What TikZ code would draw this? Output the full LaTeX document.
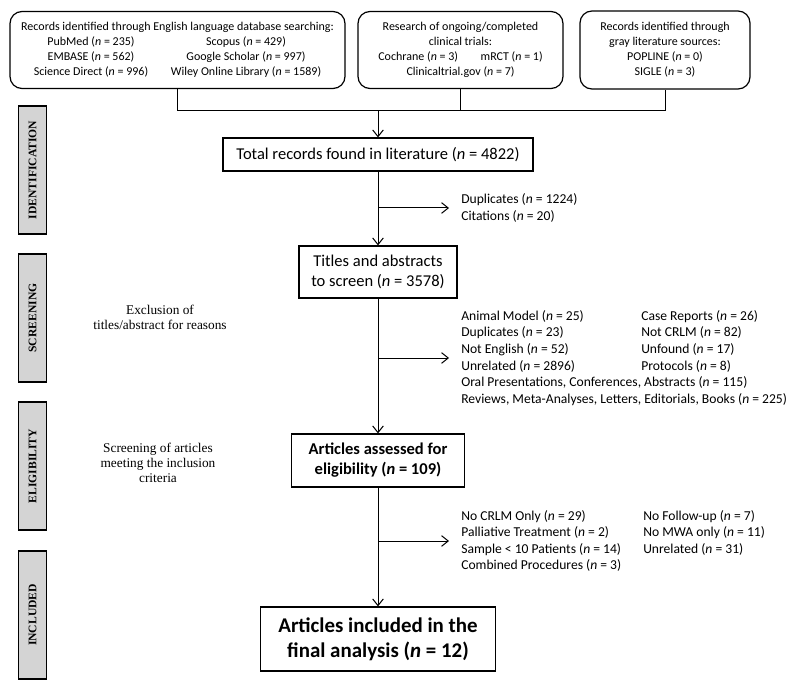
\documentclass[tikz,border=0pt]{standalone}
\usepackage{fontspec}
\setmainfont{Carlito}
\newfontfamily\tms{Liberation Serif}
\usetikzlibrary{arrows.meta}
\newcommand{\nn}{\textit{n}}
\begin{document}
\begin{tikzpicture}[x=0.75pt,y=-0.75pt,
  box/.style={draw,line width=0.9pt,inner sep=0pt,align=center},
  srcbox/.style={box,rounded corners=9pt,font=\fontsize{9}{11.25}\selectfont},
  mainbox/.style={box,font=\fontsize{12.4}{15}\selectfont},
  exclist/.style={inner ysep=0pt,inner xsep=9pt,anchor=west,align=left,font=\fontsize{10.2}{12.45}\selectfont},
  side/.style={draw,line width=1.1pt,fill=black!17,rotate=90,minimum width=96pt,minimum height=21pt,inner sep=0pt,font=\tms\bfseries\fontsize{8.7}{10}\selectfont},
  note/.style={align=center,font=\tms\fontsize{10}{11.25}\selectfont},
  ln/.style={line width=0.75pt},
  arr/.style={ln,-{Straight Barb[length=5pt,width=8pt]}}]
\useasboundingbox (0,0) rectangle (794,692);
% source boxes
\node[srcbox,minimum width=251.25pt,minimum height=57.75pt] (b1) at (177.5,50)
 {Records identified through English language database searching:\\
  \makebox[102.75pt]{PubMed (\nn{} = 235)}\makebox[129.75pt]{Scopus (\nn{} = 429)}\\
  \makebox[102.75pt]{EMBASE (\nn{} = 562)}\makebox[129.75pt]{Google Scholar (\nn{} = 997)}\\
  \makebox[102.75pt]{Science Direct (\nn{} = 996)}\makebox[129.75pt]{Wiley Online Library (\nn{} = 1589)}};
\node[srcbox,minimum width=153.75pt,minimum height=57.75pt] (b2) at (460.5,50)
 {Research of ongoing/completed\\clinical trials:\\
  Cochrane (\nn{} = 3)\hspace{17pt}mRCT (\nn{} = 1)\\Clinicaltrial.gov (\nn{} = 7)};
\node[srcbox,minimum width=127.5pt,minimum height=58.5pt] (b3) at (665,50)
 {Records identified through\\gray literature sources:\\POPLINE (\nn{} = 0)\\SIGLE (\nn{} = 3)};
% main flow
\node[mainbox,minimum width=232.5pt,minimum height=24.75pt] (total) at (378,154.5)
 {Total records found in literature (\nn{} = 4822)};
\node[mainbox,minimum width=118.5pt,minimum height=39pt] (titles) at (378,272)
 {Titles and abstracts\\to screen (\nn{} = 3578)};
\node[mainbox,font=\bfseries\fontsize{12.4}{15}\selectfont,minimum width=129.75pt,minimum height=39.75pt] (elig) at (378,460.5)
 {Articles assessed for\\eligibility (\nn{} = 109)};
\node[mainbox,font=\bfseries\fontsize{15.7}{19}\selectfont,minimum width=176.25pt,minimum height=48pt] (incl) at (378,639)
 {Articles included in the\\final analysis (\nn{} = 12)};
% exclusion lists
\node[exclist] (dup) at (449,208)
 {Duplicates (\nn{} = 1224)\\Citations (\nn{} = 20)};
\node[exclist] (exc1) at (449,358)
 {\makebox[135pt][l]{Animal Model (\nn{} = 25)}Case Reports (\nn{} = 26)\\
  \makebox[135pt][l]{Duplicates (\nn{} = 23)}Not CRLM (\nn{} = 82)\\
  \makebox[135pt][l]{Not English (\nn{} = 52)}Unfound (\nn{} = 17)\\
  \makebox[135pt][l]{Unrelated (\nn{} = 2896)}Protocols (\nn{} = 8)\\
  Oral Presentations, Conferences, Abstracts (\nn{} = 115)\\
  Reviews, Meta-Analyses, Letters, Editorials, Books (\nn{} = 225)};
\node[exclist] (exc2) at (449,541)
 {\makebox[136.5pt][l]{No CRLM Only (\nn{} = 29)}No Follow-up (\nn{} = 7)\\
  \makebox[136.5pt][l]{Palliative Treatment (\nn{} = 2)}No MWA only (\nn{} = 11)\\
  \makebox[136.5pt][l]{Sample < 10 Patients (\nn{} = 14)}Unrelated (\nn{} = 31)\\
  Combined Procedures (\nn{} = 3)};
% side labels
\node[side] (sid) at (32.5,170) {IDENTIFICATION};
\node[side] (sscr) at (32.5,318) {SCREENING};
\node[side] (sel) at (32.5,466) {ELIGIBILITY};
\node[side] (sinc) at (32.5,615) {INCLUDED};
% notes
\node[note] (n1) at (160,317.5) {Exclusion of\\titles/abstract for reasons};
\node[note] (n2) at (158,463) {Screening of articles\\meeting the inclusion\\criteria};
% connectors
\coordinate (j) at (378,111);
\coordinate (k1) at (378,208);
\coordinate (k2) at (378,358);
\coordinate (k3) at (378,541);
\draw[ln] (b1.south) -- (b1.south |- j) -- (b3.south |- j) -- (b3.south);
\draw[ln] (b2.south) -- (b2.south |- j);
\draw[arr] (j) -- (total.north);
\draw[arr] (total.south) -- (titles.north);
\draw[arr] (k1) -- (dup.west);
\draw[arr] (titles.south) -- (elig.north);
\draw[arr] (k2) -- (exc1.west);
\draw[arr] (elig.south) -- (incl.north);
\draw[arr] (k3) -- (exc2.west);
\end{tikzpicture}
\end{document}
